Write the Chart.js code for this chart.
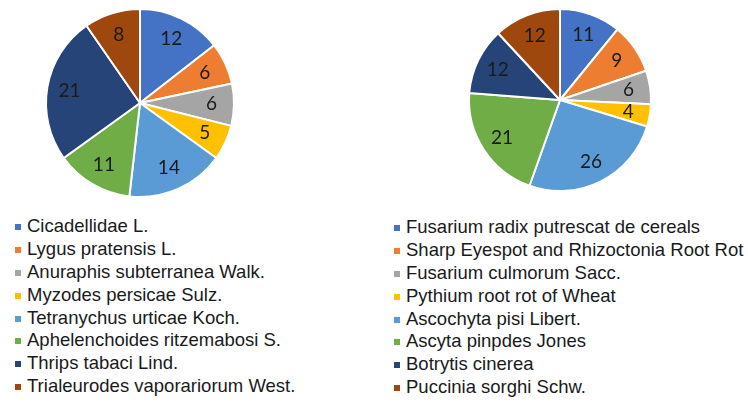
<!DOCTYPE html>
<html>
<head>
<meta charset="utf-8">
<script src="https://cdn.jsdelivr.net/npm/chart.js@4.4.1/dist/chart.umd.min.js"></script>
<style>
  html, body { margin: 0; padding: 0; background: #fff; }
  body { width: 748px; height: 403px; position: relative; overflow: hidden; }
  .pie { position: absolute; }
  .legend { position: absolute; font-family: "Liberation Sans", Arial, sans-serif; font-size: 18.5px; color: #1a1a1a; }
  .legend div { height: 22.9px; line-height: 22.9px; white-space: nowrap; position: relative; padding-left: 12px; }
  .legend span.box { position: absolute; left: 0; top: 9px; width: 6px; height: 6px; }
</style>
</head>
<body>
<div class="pie" style="left:40px;top:3px;width:200px;height:200px"><canvas id="pieLeft"></canvas></div>
<div class="pie" style="left:460px;top:0px;width:200px;height:200px"><canvas id="pieRight"></canvas></div>
<div class="legend" id="legendLeft" style="left:15px;top:215px"></div>
<div class="legend" id="legendRight" style="left:394px;top:216px"></div>
<script>
// pests (left) and diseases (right)
const pestLabels = ['Cicadellidae L.', 'Lygus pratensis L.', 'Anuraphis subterranea Walk.', 'Myzodes persicae Sulz.',
    'Tetranychus urticae Koch.', 'Aphelenchoides ritzemabosi S.', 'Thrips tabaci Lind.', 'Trialeurodes vaporariorum West.'];
const pestValues = [12, 6, 6, 5, 14, 11, 21, 8];

const diseaseLabels = ['Fusarium radix putrescat de cereals', 'Sharp Eyespot and Rhizoctonia Root Rot', 'Fusarium culmorum Sacc.',
    'Pythium root rot of Wheat', 'Ascochyta pisi Libert.', 'Ascyta pinpdes Jones', 'Botrytis cinerea', 'Puccinia sorghi Schw.'];
const diseaseValues = [11, 9, 6, 4, 26, 21, 12, 12];

const colores = ['#4472C4', '#ED7D31', '#A5A5A5', '#FFC000', '#5B9BD5', '#70AD47', '#264478', '#9E480E'];

// numbers inside the slices
const valorPlugin = {
    id: 'valores',
    afterDatasetsDraw(chart) {
        const ctx = chart.ctx;
        const meta = chart.getDatasetMeta(0);
        const valores = chart.data.datasets[0].data;
        ctx.save();
        ctx.font = '19px Lato, "Open Sans", sans-serif';
        ctx.fillStyle = '#1a1a1a';
        ctx.textAlign = 'center';
        ctx.textBaseline = 'middle';
        meta.data.forEach((arc, i) => {
            const a = (arc.startAngle + arc.endAngle) / 2;
            const r = arc.outerRadius * 0.76;
            ctx.fillText(String(valores[i]), arc.x + Math.cos(a) * r, arc.y + Math.sin(a) * r);
        });
        ctx.restore();
    }
};

function dibujarPie(id, labels, values, pad) {
    const ctx = document.getElementById(id).getContext('2d');
    return new Chart(ctx, {
        type: 'pie',
        data: {
            labels: labels,
            datasets: [{
                data: values,
                backgroundColor: colores,
                borderColor: '#ffffff',
                borderWidth: 2
            }]
        },
        options: {
            responsive: true,
            maintainAspectRatio: false,
            animation: false,
            layout: { padding: pad },
            plugins: { legend: { display: false }, tooltip: { enabled: false } }
        },
        plugins: [valorPlugin]
    });
}

function llenarLeyenda(id, labels) {
    const cont = document.getElementById(id);
    labels.forEach((txt, i) => {
        const fila = document.createElement('div');
        const caja = document.createElement('span');
        caja.className = 'box';
        caja.style.background = colores[i];
        fila.appendChild(caja);
        fila.appendChild(document.createTextNode(txt));
        cont.appendChild(fila);
    });
}

dibujarPie('pieLeft', pestLabels, pestValues, 5);
dibujarPie('pieRight', diseaseLabels, diseaseValues, 8);
llenarLeyenda('legendLeft', pestLabels);
llenarLeyenda('legendRight', diseaseLabels);
</script>
</body>
</html>
